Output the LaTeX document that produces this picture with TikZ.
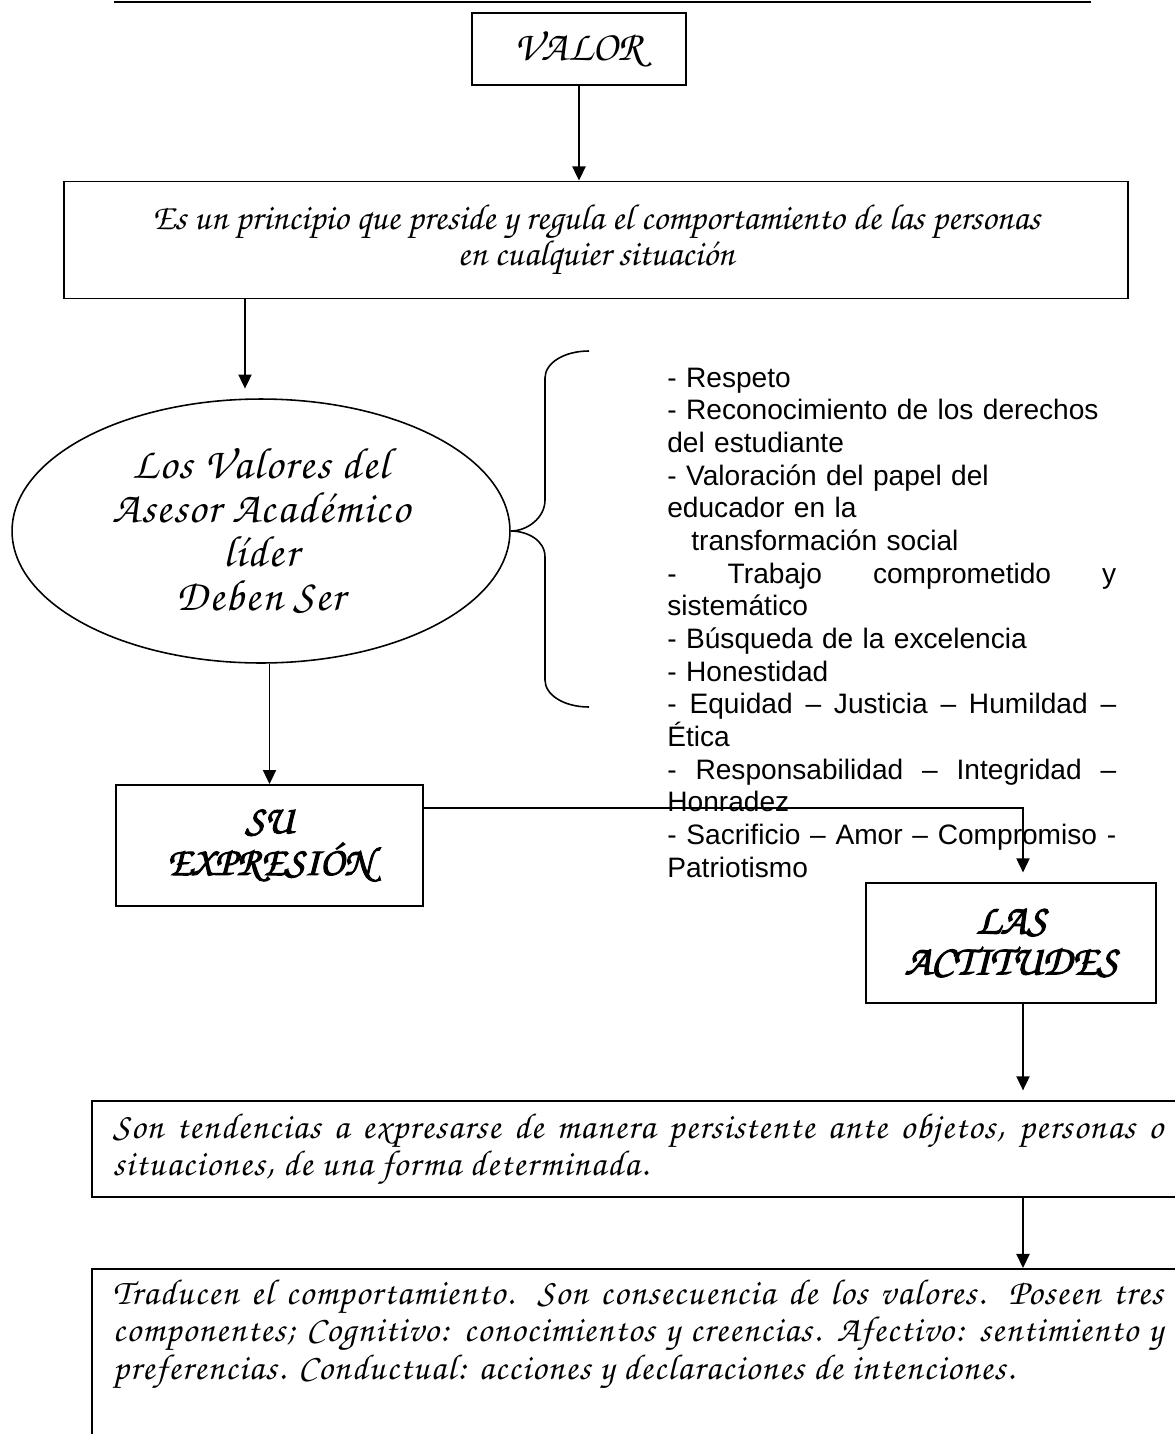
\documentclass[tikz,border=0pt]{standalone}
\usepackage{fontspec}
\setmainfont{Liberation Sans}
\newfontfamily\chorus{texgyrechorus-mediumitalic.otf}
\newfontfamily\chorusancho[LetterSpace=3.5]{texgyrechorus-mediumitalic.otf}
\newfontfamily\chorusbold[FakeBold=2.5]{texgyrechorus-mediumitalic.otf}
\usetikzlibrary{arrows.meta}
\usetikzlibrary{shapes.geometric}
\usetikzlibrary{calc,positioning}

\tikzset{
  caja/.style={draw, line width=1.1pt, align=center, inner sep=0pt},
  elipse/.style={ellipse, draw, line width=0.9pt, align=center, inner sep=0pt},
  parrafo/.style={draw, line width=1.1pt, anchor=north west, align=justify,
    text width=21.0cm, inner xsep=0.42cm,
    font=\chorusancho\fontsize{20.5}{21}\selectfont},
  flecha/.style={->, line width=0.85pt},
  hueco/.style={shorten >=5.5pt},
}

\begin{document}
\begin{tikzpicture}[x=0.02cm, y=-0.02cm, >={Triangle[width=7.5pt,length=8pt]}]
    \useasboundingbox (0,0) rectangle (1175,1434);

    \draw[line width=1.2pt] (114,2) -- (1091,2);

    \node[caja, minimum width=4.28cm, minimum height=1.44cm,
      font=\chorus\fontsize{24}{26}\selectfont] (valor) at (579,49) {VALOR};
    \node[caja, minimum width=21.28cm, minimum height=2.34cm,
      font=\chorus\fontsize{20.6}{20.4}\selectfont] (principio) at (596,240)
      {Es un principio que preside y regula el comportamiento de las personas\\
       en cualquier situación};
    \node[elipse, minimum width=9.96cm, minimum height=5.28cm,
      font=\chorusancho\fontsize{25}{25}\selectfont] (valores) at (261,531)
      {Los Valores del\\Asesor Académico\\líder\\Deben Ser};
    \node[caja, minimum width=6.14cm, minimum height=2.42cm,
      font=\chorusbold\fontsize{23}{23.8}\selectfont] (expresion) at (269.5,845.5)
      {SU\\EXPRESIÓN};
    \node[caja, minimum width=5.8cm, minimum height=2.4cm,
      font=\chorusbold\fontsize{24}{23.2}\selectfont] (actitudes) at (1011,943)
      {LAS\\ACTITUDES};

    % lista de valores
    \node[anchor=base west, text width=8.98cm, align=left, inner sep=0pt,
      font=\fontsize{16}{18.6}\selectfont] (lista) at (667,387)
      {- Respeto\\
       - Reconocimiento de los derechos\\
       del estudiante\\
       - Valoración del papel del\\
       educador en la\\
       \hspace*{0.48cm}transformación social\\
       \makebox[\hsize]{-\hfill Trabajo\hfill comprometido\hfill y}\\
       sistemático\\
       - Búsqueda de la excelencia\\
       - Honestidad\\
       \makebox[\hsize]{-\hfill Equidad\hfill –\hfill Justicia\hfill –\hfill Humildad\hfill –}\\
       Ética\\
       \makebox[\hsize]{-\hfill Responsabilidad\hfill –\hfill Integridad\hfill –}\\
       Honradez\\
       \makebox[\hsize]{-\hfill Sacrificio\hfill –\hfill Amor\hfill –\hfill Compromiso\hfill -}\\
       Patriotismo};

    \node[parrafo, minimum height=1.92cm] (tendencias) at (91,1100)
      {Son tendencias a expresarse de manera persistente ante objetos, personas o\linebreak
       situaciones, de una forma determinada.};
    \node[parrafo, inner ysep=0.22cm, text depth=4cm,
      font=\chorusancho\fontsize{20.5}{21.4}\selectfont] (traducen) at (91,1268)
      {Traducen el comportamiento. Son consecuencia de los valores. Poseen tres\linebreak
       componentes; Cognitivo: conocimientos y creencias. Afectivo: sentimiento y\linebreak
       preferencias. Conductual: acciones y declaraciones de intenciones.};

    % llave
    \draw[line width=0.9pt] (valores.east) .. controls (527,531) and (545,518) .. (545,500)
      -- (545,378) .. controls (545,363) and (564,351) .. (589,351);
    \draw[line width=0.9pt] (valores.east) .. controls (527,531) and (545,540) .. (545,557)
      -- (545,680) .. controls (545,695) and (564,707) .. (589,707);

    % conectores
    \draw[flecha] (valor) -- (valor |- principio.north);
    \draw[flecha, hueco] ([xshift=-0.32cm]valores.north |- principio.south) -- ([xshift=-0.32cm]valores.north);
    \draw[flecha] (valores.south -| expresion.north) -- (expresion.north);
    \draw[flecha, hueco] ([yshift=-0.48cm]expresion.north east) -| ([xshift=0.24cm]actitudes.north);
    \draw[flecha, hueco] ([xshift=0.24cm]actitudes.south) -- ([xshift=0.24cm]actitudes.south |- tendencias.north);
    \draw[flecha] ([xshift=0.24cm]actitudes.south |- tendencias.south) -- ([xshift=0.24cm]actitudes.south |- traducen.north);

\end{tikzpicture}
\end{document}
